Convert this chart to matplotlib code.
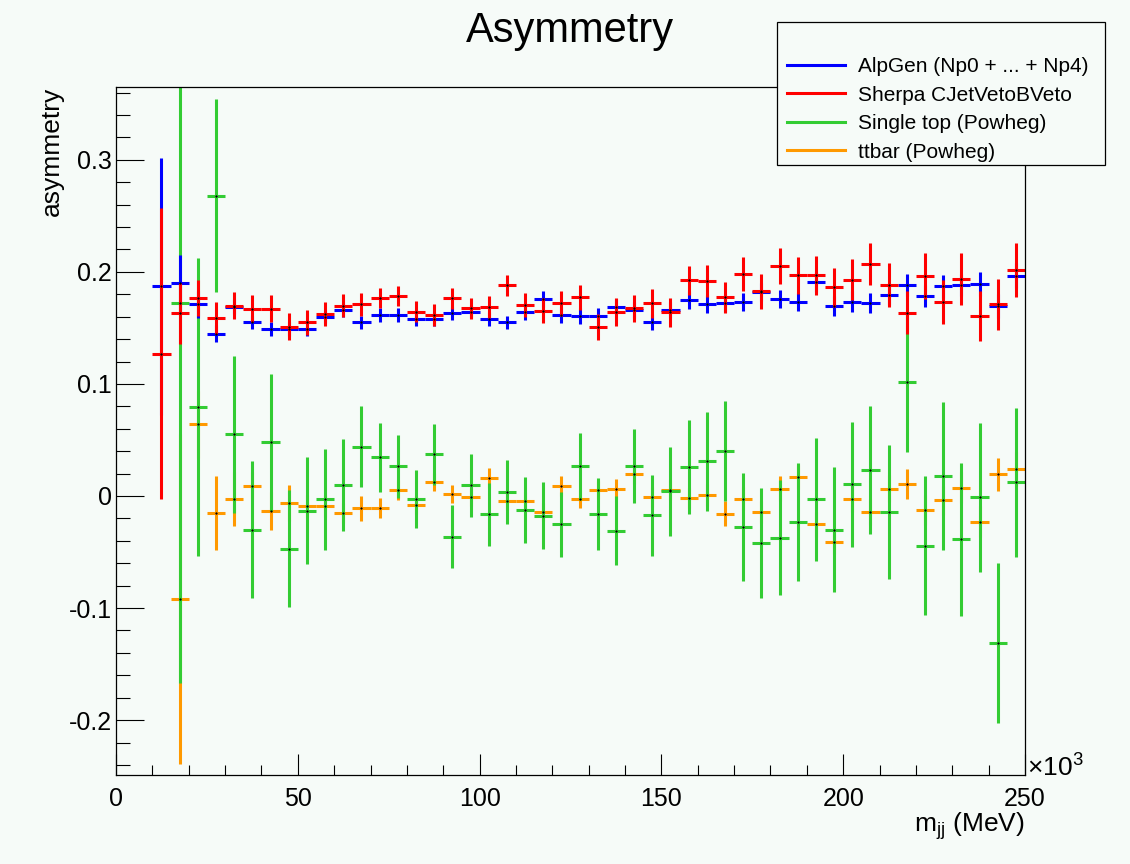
import numpy as np
import matplotlib
matplotlib.use('Agg')
import matplotlib.pyplot as plt
from matplotlib.lines import Line2D
from matplotlib.patches import Rectangle
from matplotlib.ticker import MultipleLocator

plt.rcParams['font.family'] = ['Liberation Sans', 'DejaVu Sans']
plt.rcParams['mathtext.fontset'] = 'custom'
plt.rcParams['mathtext.rm'] = 'Liberation Sans'

BG = '#f6fbf8'

# bin centres (x10^3 MeV), 5 wide, 10 .. 250
bin_centres = np.arange(12.5, 250, 5.0)
half_width = 2.5

alpgen = [0.187, 0.190, 0.171, 0.145, 0.169, 0.155, 0.149, 0.149, 0.149, 0.160,
          0.166, 0.155, 0.1615, 0.1615, 0.158, 0.158, 0.163, 0.1646, 0.158, 0.155,
          0.164, 0.1756, 0.1615, 0.1607, 0.1607, 0.169, 0.166, 0.155, 0.166, 0.175,
          0.1714, 0.1726, 0.173, 0.1824, 0.176, 0.1735, 0.191, 0.1696, 0.1735, 0.172,
          0.1798, 0.1884, 0.1786, 0.187, 0.1884, 0.1893, 0.1696, 0.1967]
alpgen_err = [0.115, 0.025, 0.012, 0.008, 0.007, 0.006, 0.006, 0.006, 0.006, 0.006,
              0.006, 0.006, 0.006, 0.006, 0.006, 0.006, 0.006, 0.006, 0.006, 0.006,
              0.007, 0.007, 0.007, 0.007, 0.007, 0.007, 0.007, 0.007, 0.007, 0.008,
              0.008, 0.008, 0.008, 0.008, 0.008, 0.008, 0.009, 0.009, 0.009, 0.009,
              0.009, 0.0095, 0.0095, 0.010, 0.010, 0.011, 0.011, 0.011]

sherpa = [0.127, 0.163, 0.177, 0.159, 0.170, 0.167, 0.167, 0.151, 0.155, 0.1625,
          0.170, 0.171, 0.1765, 0.1786, 0.1646, 0.1616, 0.1765, 0.1676, 0.1685, 0.188,
          0.1705, 0.1655, 0.172, 0.1774, 0.151, 0.1646, 0.1676, 0.172, 0.164, 0.1925,
          0.1917, 0.1774, 0.198, 0.1827, 0.2054, 0.197, 0.197, 0.1863, 0.1932, 0.207,
          0.188, 0.1637, 0.1964, 0.173, 0.1937, 0.1607, 0.171, 0.2018]
sherpa_err = [0.130, 0.027, 0.016, 0.014, 0.012, 0.012, 0.012, 0.012, 0.011, 0.011,
              0.010, 0.010, 0.009, 0.009, 0.009, 0.0095, 0.0095, 0.0095, 0.010, 0.0095,
              0.011, 0.011, 0.011, 0.011, 0.0115, 0.0125, 0.012, 0.013, 0.013, 0.013,
              0.014, 0.014, 0.0155, 0.0156, 0.016, 0.0167, 0.0174, 0.0175, 0.018, 0.0185,
              0.0195, 0.019, 0.0206, 0.0198, 0.023, 0.0226, 0.0225, 0.024]

# single top and ttbar have no entry in the first bin
single_top = [0.172, 0.079, 0.268, 0.055, -0.030, 0.048, -0.047, -0.013, -0.003, 0.0095,
              0.044, 0.0345, 0.0265, -0.003, 0.0372, -0.0363, 0.0095, -0.0164, 0.0033, -0.0128,
              -0.0176, -0.0253, 0.0265, -0.0158, -0.031, 0.0265, -0.0173, 0.0042, 0.0256, 0.031,
              0.040, -0.0277, -0.042, -0.0372, -0.0235, -0.003, -0.030, 0.0104, 0.0232, -0.0143,
              0.1015, -0.0443, 0.0176, -0.0387, -0.0012, -0.131, 0.0122]
single_top_err = [0.339, 0.133, 0.086, 0.070, 0.061, 0.061, 0.052, 0.048, 0.045, 0.041,
                  0.036, 0.031, 0.028, 0.026, 0.027, 0.028, 0.028, 0.028, 0.0286, 0.0295,
                  0.030, 0.029, 0.030, 0.032, 0.031, 0.033, 0.036, 0.0396, 0.042, 0.044,
                  0.0446, 0.048, 0.049, 0.0516, 0.0527, 0.055, 0.0556, 0.056, 0.057, 0.0595,
                  0.062, 0.062, 0.066, 0.068, 0.0667, 0.0714, 0.0667]

ttbar = [-0.092, 0.064, -0.015, -0.003, 0.009, -0.013, -0.006, -0.009, -0.009, -0.015,
         -0.011, -0.011, 0.0057, -0.008, 0.0122, 0.0015, -0.0006, 0.016, -0.0048, -0.0048,
         -0.0143, 0.0089, -0.003, 0.005, 0.006, 0.0193, -0.0006, 0.005, -0.0015, 0.0009,
         -0.0158, -0.0024, -0.0143, 0.0065, 0.017, -0.0253, -0.041, -0.0024, -0.0143, 0.0065,
         0.0104, -0.0125, -0.0039, 0.0074, -0.023, 0.0193, 0.0241]
ttbar_err = [0.147, 0.030, 0.033, 0.024, 0.012, 0.017, 0.016, 0.010, 0.010, 0.009,
             0.011, 0.009, 0.009, 0.008, 0.008, 0.008, 0.008, 0.009, 0.008, 0.008,
             0.008, 0.009, 0.008, 0.008, 0.009, 0.009, 0.009, 0.009, 0.009, 0.010,
             0.011, 0.010, 0.010, 0.011, 0.011, 0.011, 0.011, 0.012, 0.012, 0.012,
             0.0133, 0.013, 0.013, 0.014, 0.014, 0.0149, 0.015]

labels = ['AlpGen (Np0 + ... + Np4)', 'Sherpa CJetVetoBVeto',
          'Single top (Powheg)', 'ttbar (Powheg)']
colors = ['#0000ff', '#ff0000', '#33cc33', '#ff9900']

W, H = 1130, 864
fig = plt.figure(figsize=(W/100, H/100), dpi=100, facecolor=BG)
ax = fig.add_axes([116/W, 1-775/H, (1025-116)/W, (775-87)/H])
ax.set_facecolor(BG)

def draw(x, y, err, color):
    ax.errorbar(x, y, xerr=half_width, yerr=err, fmt='s', ms=0.6, mfc='k', mec='k',
                ecolor=color, elinewidth=2.2, capsize=0)

# drawing order: ttbar at the back, sherpa on top
draw(bin_centres[1:], ttbar, ttbar_err, colors[3])
draw(bin_centres[1:], single_top, single_top_err, colors[2])
draw(bin_centres, alpgen, alpgen_err, colors[0])
draw(bin_centres, sherpa, sherpa_err, colors[1])

ax.set_xlim(0, 250)
ax.xaxis.set_major_locator(MultipleLocator(50))
ax.xaxis.set_minor_locator(MultipleLocator(10))
ax.yaxis.set_major_locator(MultipleLocator(0.1))
ax.yaxis.set_minor_locator(MultipleLocator(0.02))
ax.yaxis.set_major_formatter(matplotlib.ticker.FuncFormatter(
    lambda v, p: '0' if abs(v) < 1e-9 else f'{v:g}'))
ax.set_ylim(-0.249, 0.365)

ax.tick_params(axis='x', which='major', direction='in', length=15, width=0.8, pad=9, labelsize=18)
ax.tick_params(axis='x', which='minor', direction='in', length=7.2, width=0.8)
ax.tick_params(axis='y', which='major', direction='in', length=20, width=0.8, pad=3, labelsize=18)
ax.tick_params(axis='y', which='minor', direction='in', length=10, width=0.8)
for s in ax.spines.values():
    s.set_linewidth(0.9)

fig.text(570/W, 1-42/H, 'Asymmetry', ha='center', va='baseline', fontsize=30)
fig.text(52/W, 1-87/H, 'asymmetry', rotation=90, ha='center', va='top', fontsize=19)
fig.text(1025/W, 1-832/H, r'm$_{\rm jj}$ (MeV)', ha='right', va='baseline', fontsize=19)
fig.text(1027/W, 1-776/H, r'$\times$10$^{3}$', ha='left', va='baseline', fontsize=19)

# legend box (ROOT TLegend style), entries drawn over it
box = Rectangle((777/W, 1-165/H), (1105-777)/W, (165-22)/H, transform=fig.transFigure,
                facecolor=BG, edgecolor='black', linewidth=0.9, zorder=2)
fig.add_artist(box)
handles = [Line2D([], [], color=c, lw=2.2) for c in colors]
leg = fig.legend(handles, labels, loc='upper left',
                 bbox_to_anchor=(787/W, 1-57/H), borderaxespad=0, borderpad=0,
                 fontsize=15, handlelength=2.8, handletextpad=0.6, labelspacing=0.46,
                 frameon=False)
leg.set_zorder(3)

fig.savefig('out.png', dpi=100, facecolor=BG)
